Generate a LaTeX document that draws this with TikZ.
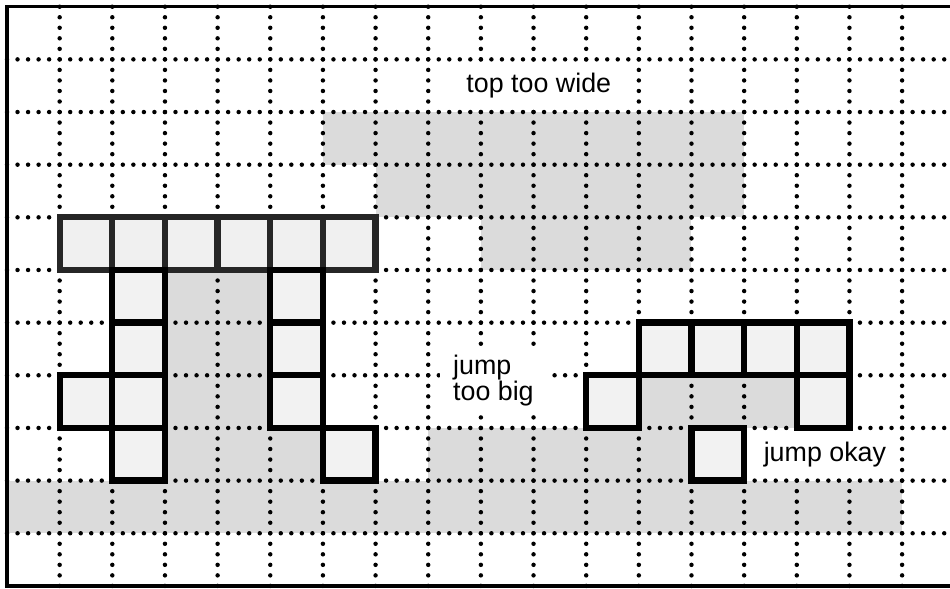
\documentclass[tikz,border=0pt]{standalone}
\usepackage{fontspec}
\setmainfont{Liberation Sans}

\begin{document}
\begin{tikzpicture}[x=1cm, y=1cm,
  gridline/.style={line width=2.4pt, line cap=round, dash pattern=on 0pt off 0.2cm},
  graycell/.style={fill=gray!28},
  cellbox/.style={draw=black, line width=3.4pt, fill=gray!10},
  barbox/.style={draw=black!85, line width=3.4pt, fill=gray!12},
  note/.style={font=\fontsize{14.5}{14.5}\selectfont, align=left, fill=white, inner xsep=7pt, inner ysep=4pt}
]

\useasboundingbox (-0.133,-0.04) rectangle (17.91,11.128);

% Shaded cells
\fill[graycell] (6,8) rectangle (14,9);
\fill[graycell] (7,7) rectangle (14,8);
\fill[graycell] (9,6) rectangle (13,7);
\fill[graycell] (3,3) rectangle (5,6);
\fill[graycell] (12,3) rectangle (15,4);
\fill[graycell] (3,2) rectangle (6,3);
\fill[graycell] (8,2) rectangle (13,3);
\fill[graycell] (0,1) rectangle (17,2);

% Dotted grid
\foreach \x in {1,...,17} {
  \draw[gridline] (\x,0) -- (\x,11);
}
\foreach \y in {1,...,10} {
  \draw[gridline] (0,\y) -- (18.2,\y);
}

% Frame
\draw[line width=1.8pt] (18.2,11) -- (0,11) -- (0,0) -- (18.2,0);

% Top bar of the left figure
\foreach \x in {1,...,6} {
  \draw[barbox] (\x,6) rectangle +(1,1);
}

% Left figure legs
\foreach \x/\y in {2/5, 2/4, 2/3, 2/2, 1/3, 5/5, 5/4, 5/3, 6/2} {
  \draw[cellbox] (\x,\y) rectangle +(1,1);
}

% Right figure
\foreach \x/\y in {12/4, 13/4, 14/4, 15/4, 11/3, 15/3, 13/2} {
  \draw[cellbox] (\x,\y) rectangle +(1,1);
}

% Labels
\node[note] (toplabel) at (10.1,9.5) {top\ too\ wide};
\node[note, anchor=west] (biglabel) at (8.22,3.9) {jump\\too\ big};
\node[note, anchor=west] (okaylabel) at (14.12,2.49) {jump\ okay};

\end{tikzpicture}
\end{document}
